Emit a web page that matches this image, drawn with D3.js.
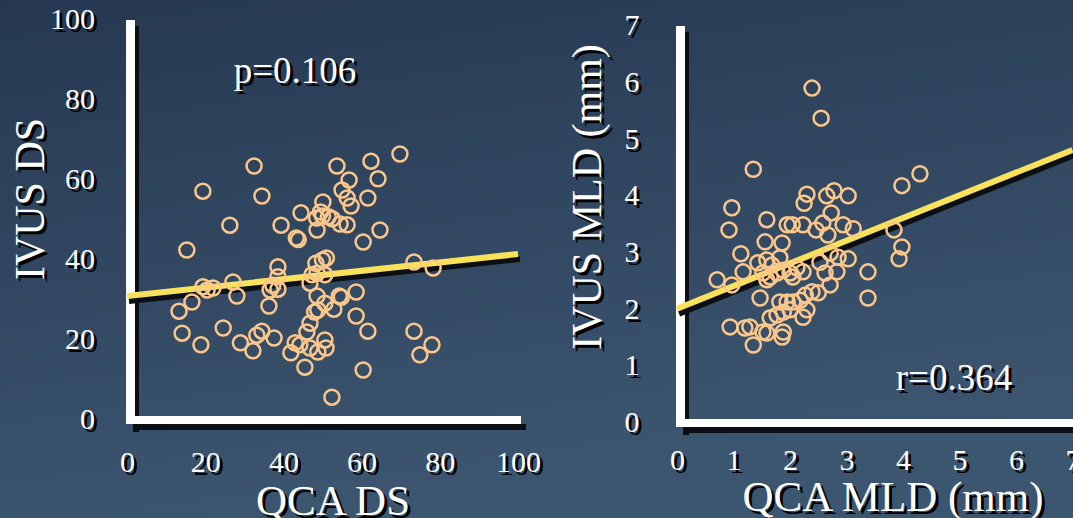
<!DOCTYPE html>
<html>
<head>
<meta charset="utf-8">
<script src="https://cdn.jsdelivr.net/npm/d3@7"></script>
<style>
  html, body { margin: 0; padding: 0; background: #2f445d; }
  svg { display: block; }
  text { font-family: "Liberation Serif", "Times New Roman", serif; }
</style>
</head>
<body>
<svg id="chart"></svg>
<script>
// left panel: QCA DS vs IVUS DS
const dsQca = [69.8, 62.4, 32.5, 53.7, 64.2, 56.8, 19.4, 55, 34.5, 56.3, 61.6, 57.3, 50.1, 44.5, 49.5, 50, 51.5, 48.5, 52.5, 54.5, 56.3, 48.6, 26.3, 39.4, 43.3, 43.8, 64.7, 60.4, 15.3, 38.6, 51, 50, 48.3, 73.4, 78.3, 38.6, 47.3, 48.6, 50.6, 46.8, 19.4, 20.5, 22, 27.1, 28.1, 37.3, 38.6, 36.6, 16.6, 13.3, 36.3, 48.6, 54.3, 54.8, 58.6, 50.6, 48.8, 48, 52.9, 58.6, 61.6, 46.8, 46, 14.1, 24.6, 18.9, 29, 32.2, 34.5, 33.2, 37.6, 43, 44.2, 41.9, 46.8, 48.8, 50.6, 50.9, 45.5, 60.4, 52.4, 73.4, 78, 74.9];
const dsIvus = [67, 65.2, 64, 64, 60.8, 60.5, 57.7, 58, 56.5, 56, 56, 54, 55, 52.3, 52.5, 51.5, 51.3, 51, 50.8, 49.5, 49.3, 48, 49.2, 49.2, 46, 45.6, 48, 45, 43, 38.8, 41, 40.5, 39.7, 40, 38.5, 36.3, 36.8, 37.2, 36.8, 34.7, 33.8, 33, 33.5, 35, 31.5, 34.2, 33.2, 33, 30, 27.7, 29, 31.5, 31.5, 31.2, 32.5, 29.7, 28, 27.5, 28.2, 26.5, 22.7, 24.7, 22.5, 22.2, 23.5, 19.3, 19.8, 17.8, 22.7, 21.7, 21, 19.8, 19.3, 17.3, 18.5, 17.5, 20.5, 18.5, 13.7, 13, 6.2, 22.7, 19.3, 16.8];
const dsFit = [31.5, 42];          // fitted IVUS DS at QCA DS = 0 and 100
const dsTicks = [0, 20, 40, 60, 80, 100];

// right panel: QCA MLD vs IVUS MLD
const mldQca = [2.39, 2.55, 1.35, 4.30, 3.98, 0.97, 2.30, 2.25, 2.65, 2.78, 3.03, 2.73, 1.59, 0.92, 1.95, 2.04, 2.23, 2.58, 2.46, 2.67, 2.94, 3.12, 3.84, 1.56, 1.86, 3.98, 3.93, 1.13, 0.71, 0.97, 1.17, 1.43, 1.59, 1.68, 1.82, 1.52, 1.65, 1.77, 1.59, 1.88, 2.0, 2.12, 2.23, 2.05, 2.53, 2.71, 2.85, 3.03, 2.62, 2.83, 2.71, 3.38, 3.38, 1.47, 1.82, 1.95, 2.05, 2.0, 1.88, 1.77, 1.65, 2.27, 2.39, 2.50, 2.18, 2.30, 2.23, 0.94, 1.20, 1.29, 1.35, 1.52, 1.59, 1.86, 1.88];
const mldIvus = [5.94, 5.41, 4.51, 4.43, 4.22, 3.83, 4.07, 3.91, 4.04, 4.13, 4.04, 3.74, 3.62, 3.44, 3.53, 3.53, 3.53, 3.56, 3.44, 3.35, 3.53, 3.46, 3.44, 3.23, 3.21, 3.14, 2.93, 3.02, 2.56, 2.47, 2.70, 2.86, 2.91, 2.82, 2.95, 2.68, 2.61, 2.68, 2.56, 2.73, 2.68, 2.77, 2.70, 2.61, 2.87, 3.03, 2.96, 2.93, 2.68, 2.70, 2.47, 2.70, 2.24, 2.24, 2.17, 2.17, 2.17, 2.03, 1.99, 1.94, 1.89, 2.29, 2.35, 2.33, 2.20, 2.03, 1.90, 1.73, 1.71, 1.73, 1.41, 1.64, 1.62, 1.55, 1.64];
const mldFit = [2.05, 4.85];       // fitted IVUS MLD at QCA MLD = 0 and 7
const mldTicks = [0, 1, 2, 3, 4, 5, 6, 7];

const width = 1073, height = 518;

const svg = d3.select("#chart")
    .attr("width", width)
    .attr("height", height);

let grad = svg.append("defs").append("linearGradient")
    .attr("id", "bg")
    .attr("x1", 0).attr("y1", 0).attr("x2", 0.3).attr("y2", 1);
grad.append("stop").attr("offset", "0%").attr("stop-color", "#263851");
grad.append("stop").attr("offset", "100%").attr("stop-color", "#3d5670");

svg.append("rect")
    .attr("width", width)
    .attr("height", height)
    .attr("fill", "url(#bg)");

// text with the slide's drop shadow
function shadowText(g, x, y, str, size, rotate) {
    [["#000", 3], ["#fff", 0]].forEach(function (s) {
        let t = g.append("text")
            .attr("x", x + s[1])
            .attr("y", y + s[1])
            .attr("fill", s[0])
            .attr("font-size", size)
            .attr("text-anchor", "middle")
            .attr("dominant-baseline", "central")
            .text(str);
        if (rotate) {
            t.attr("transform", "rotate(-90," + (x + s[1]) + "," + (y + s[1]) + ")");
        }
    });
}

function drawPanel(opt) {
    let g = svg.append("g");
    let x = opt.x, y = opt.y;
    let x0 = x(0), y0 = y(0);
    let xEnd = x.range()[1], yTop = y.range()[1];

    // tick labels: shadow copy first, then white
    [["#000", 3], ["#fff", 0]].forEach(function (s) {
        let ax = g.append("g")
            .attr("transform", "translate(" + s[1] + "," + (opt.xLabelY + s[1]) + ")")
            .call(d3.axisBottom(x).tickValues(opt.ticks).tickSize(0).tickPadding(0).tickFormat(d3.format("d")));
        ax.select(".domain").remove();
        ax.selectAll("text")
            .attr("fill", s[0])
            .attr("font-size", 30)
            .attr("font-family", "Liberation Serif, serif")
            .attr("dy", "0.32em")
            .attr("y", 0);

        let ay = g.append("g")
            .attr("transform", "translate(" + (opt.yLabelX + s[1]) + "," + (s[1] - 3) + ")")
            .call(d3.axisLeft(y).tickValues(opt.yTicks).tickSize(0).tickPadding(0).tickFormat(d3.format("d")));
        ay.select(".domain").remove();
        ay.selectAll("text")
            .attr("fill", s[0])
            .attr("font-size", 30)
            .attr("font-family", "Liberation Serif, serif")
            .attr("text-anchor", opt.yAnchor)
            .attr("x", 0);
    });

    // axis bars with shadow
    g.append("rect")
        .attr("x", x0 + 6).attr("y", yTop + 4)
        .attr("width", 6).attr("height", y0 - yTop + 6)
        .attr("fill", "#0b0f14");
    g.append("rect")
        .attr("x", x0 + 6).attr("y", y0 + 2)
        .attr("width", xEnd - x0 + 2).attr("height", 6)
        .attr("fill", "#0b0f14");
    g.append("rect")
        .attr("x", x0 - 1).attr("y", yTop - 2)
        .attr("width", 9).attr("height", y0 - yTop + 4)
        .attr("fill", "#fff");
    g.append("rect")
        .attr("x", x0 - 1).attr("y", y0 - 6)
        .attr("width", xEnd - x0 + 4).attr("height", 8)
        .attr("fill", "#fff");

    // regression line
    let d = x.domain();
    let fit = [[d[0], opt.fit[0]], [d[1], opt.fit[1]]];
    let line = d3.line().x(p => x(p[0])).y(p => y(p[1]));
    g.append("path")
        .attr("d", line(fit))
        .attr("transform", "translate(2,5)")
        .attr("stroke", "#0b0f14")
        .attr("stroke-width", 6)
        .attr("fill", "none");
    g.append("path")
        .attr("d", line(fit))
        .attr("stroke", "#f8e25a")
        .attr("stroke-width", 6)
        .attr("fill", "none");

    // points
    g.selectAll("circle.pt")
        .data(opt.xs.map((v, i) => [v, opt.ys[i]]))
        .enter()
        .append("circle")
        .attr("class", "pt")
        .attr("cx", p => x(p[0]))
        .attr("cy", p => y(p[1]))
        .attr("r", 7.5)
        .attr("fill", "none")
        .attr("stroke", "#fbc78a")
        .attr("stroke-width", 2.5);

    shadowText(g, opt.xTitle[0], opt.xTitle[1], opt.xTitle[2], 43, false);
    shadowText(g, opt.yTitle[0], opt.yTitle[1], opt.yTitle[2], 42, true);
    shadowText(g, opt.note[0], opt.note[1], opt.note[2], 37, false);
}

drawPanel({
    x: d3.scaleLinear().domain([0, 100]).range([127, 518]),
    y: d3.scaleLinear().domain([0, 100]).range([422, 22]),
    ticks: dsTicks,
    yTicks: dsTicks,
    xLabelY: 462,
    yLabelX: 95,
    yAnchor: "end",
    fit: dsFit,
    xs: dsQca,
    ys: dsIvus,
    xTitle: [333, 500, "QCA DS"],
    yTitle: [30, 199, "IVUS DS"],
    note: [295, 70, "p=0.106"]
});

drawPanel({
    x: d3.scaleLinear().domain([0, 7]).range([677, 1072.5]),
    y: d3.scaleLinear().domain([0, 7]).range([425, 28]),
    ticks: mldTicks,
    yTicks: mldTicks,
    xLabelY: 460,
    yLabelX: 632,
    yAnchor: "middle",
    fit: mldFit,
    xs: mldQca,
    ys: mldIvus,
    xTitle: [893, 496, "QCA MLD (mm)"],
    yTitle: [587, 197, "IVUS MLD (mm)"],
    note: [954, 377, "r=0.364"]
});
</script>
</body>
</html>
